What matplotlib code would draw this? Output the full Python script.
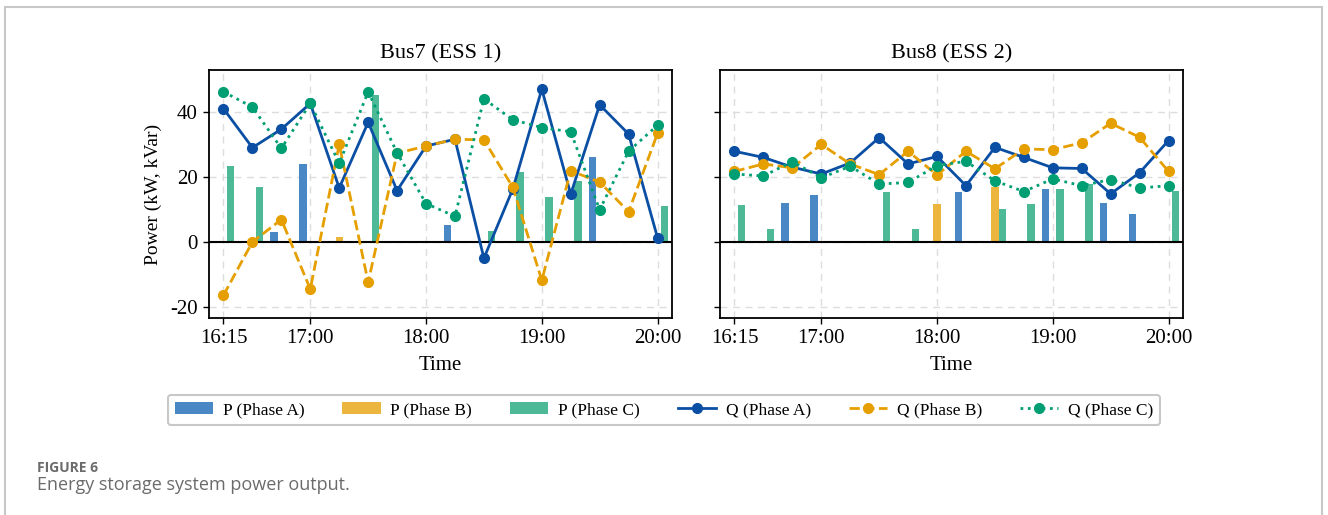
import numpy as np
import matplotlib
matplotlib.use("Agg")
import matplotlib.pyplot as plt
from matplotlib.patches import Rectangle

times = ["16:15", "16:30", "16:45", "17:00", "17:15", "17:30", "17:45", "18:00",
         "18:15", "18:30", "18:45", "19:00", "19:15", "19:30", "19:45", "20:00"]
tick_labels = ["16:15", "17:00", "18:00", "19:00", "20:00"]
panel_titles = ["Bus7 (ESS 1)", "Bus8 (ESS 2)"]

# Bus7 (ESS 1)
p7_a = [0, 0, 3, 24, 0, 0, 0, 0, 5.3, 0, 0, 0, 0, 26, 0, 0]
p7_b = [0, 0, 0, 0, 1.5, 0, 0, 0, 0, 0, 0, 0, 0, 0, 0, 0]
p7_c = [23.5, 17, 0, 0, 0, 45.3, 0, 0, 0, 3.5, 21.5, 13.7, 18.9, 0, 0, 11.2]
q7_a = [41, 29, 34.7, 42.6, 16.6, 36.8, 15.8, 29.5, 31.6, -5, 16.3, 47, 14.7, 42.2, 33.2, 1.3]
q7_b = [-16.4, 0, 6.9, -14.5, 30, -12.4, 27.3, 29.5, 31.6, 31.4, 16.8, -11.8, 21.9, 18.4, 9.3, 33.4]
q7_c = [46.2, 41.5, 28.8, 42.6, 24.2, 46.2, 27.4, 11.8, 7.9, 44, 37.6, 35.2, 33.9, 9.9, 27.9, 35.9]

# Bus8 (ESS 2)
p8_a = [0, 0, 11.9, 14.5, 0, 0, 0, 0, 15.4, 0, 0, 16.3, 0, 12, 8.6, 0]
p8_b = [0, 0, 0, 0, 0, 0, 0, 11.8, 0, 16.9, 0, 0, 0, 0, 0, 0]
p8_c = [11.4, 4.1, 0, 0, 0, 15.3, 4.1, 0, 0, 10.2, 11.8, 16.3, 17.9, 0, 0, 15.7]
q8_a = [27.9, 26, 23, 20.9, 24.3, 32.1, 24, 26.3, 17.3, 29.1, 26, 22.8, 22.6, 14.8, 21.3, 31.2]
q8_b = [21.7, 24, 22.8, 30, 24, 20.7, 27.9, 20.6, 27.9, 22.5, 28.6, 28.4, 30.5, 36.5, 32.2, 21.7]
q8_c = [20.9, 20.3, 24.7, 19.7, 23.3, 17.8, 18.3, 23.5, 24.8, 18.8, 15.5, 19.4, 17.3, 19.2, 16.6, 17.3]

line_colors = ["#0a4fa3", "#e69f00", "#009e73"]
bar_colors = ["#4a87c5", "#ecb63e", "#4db997"]
styles = ["-", "--", ":"]
phase_names = ["Phase A", "Phase B", "Phase C"]

plt.rcParams["font.family"] = ["Liberation Serif", "DejaVu Serif"]
plt.rcParams["axes.unicode_minus"] = False

fig = plt.figure(figsize=(13.28, 5.15), dpi=100)
W, H = 1328, 515

def ax_rect(x0, y0, x1, y1):
    return [x0 / W, 1 - y1 / H, (x1 - x0) / W, (y1 - y0) / H]

ax1 = fig.add_axes(ax_rect(209, 70, 672, 318))
ax2 = fig.add_axes(ax_rect(720, 70, 1183, 318), sharey=ax1)

x = np.arange(len(times))
tick_pos = [times.index(t) for t in tick_labels]
width = 0.25
offsets = [-0.25, 0.0, 0.25]

datasets = [
    (ax1, [p7_a, p7_b, p7_c], [q7_a, q7_b, q7_c], panel_titles[0]),
    (ax2, [p8_a, p8_b, p8_c], [q8_a, q8_b, q8_c], panel_titles[1]),
]

handles = []
for k, (ax, ps, qs, title) in enumerate(datasets):
    ax.set_axisbelow(True)
    bar_handles = []
    line_handles = []
    for i in range(3):
        b = ax.bar(x + offsets[i], ps[i], width=width, color=bar_colors[i],
                   edgecolor="none", label=f"P ({phase_names[i]})", zorder=2)
        bar_handles.append(b)
    for i in range(3):
        (l,) = ax.plot(x, qs[i], linestyle=styles[i], color=line_colors[i],
                       marker="o", markersize=7, linewidth=2,
                       label=f"Q ({phase_names[i]})", zorder=3)
        line_handles.append(l)
    if k == 0:
        handles = bar_handles + line_handles
    ax.axhline(0, color="black", linewidth=1.5, zorder=2.5)
    ax.set_xlim(-0.5, 15.5)
    ax.set_xticks(tick_pos)
    ax.set_xticklabels(tick_labels)
    ax.grid(True, linestyle=(0, (5, 4)), color="#dddddd", linewidth=1)
    ax.set_title(title, fontsize=16, pad=8)
    ax.set_xlabel("Time", fontsize=15, labelpad=6)
    ax.tick_params(axis="both", labelsize=15, direction="out", length=4, width=1, pad=4)
    for s in ax.spines.values():
        s.set_linewidth(1.3)

ax1.set_ylim(-23.4, 52.9)
ax1.set_yticks([-20, 0, 20, 40])
ax1.set_ylabel("Power (kW, kVar)", fontsize=14, labelpad=6)
plt.setp(ax2.get_yticklabels(), visible=False)

leg = fig.legend(handles, [h.get_label() for h in handles], loc="center",
                 bbox_to_anchor=(664 / W, 1 - 410 / H), ncol=6, fontsize=12.5,
                 frameon=True, fancybox=True, edgecolor="#bbbbbb",
                 handlelength=2.2, handletextpad=0.55, columnspacing=2.2,
                 borderpad=0.4)
leg.get_frame().set_linewidth(1.5)

# outer frame
fig.patches.append(Rectangle((5 / W, -0.1), (1322 - 5) / W, (1 - 7 / H) + 0.1,
                             transform=fig.transFigure, fill=False,
                             edgecolor="#c8c8c8", linewidth=1.5))

fig.text(37 / W, 1 - 468 / H, "FIGURE 6", fontsize=10, fontweight="bold",
         color="#6b6b6b", family=["Open Sans", "DejaVu Sans"], va="center")
fig.text(37 / W, 1 - 485 / H, "Energy storage system power output.", fontsize=13,
         color="#6b6b6b", family=["Open Sans", "DejaVu Sans"], va="center")

fig.savefig("out.png", dpi=100)
